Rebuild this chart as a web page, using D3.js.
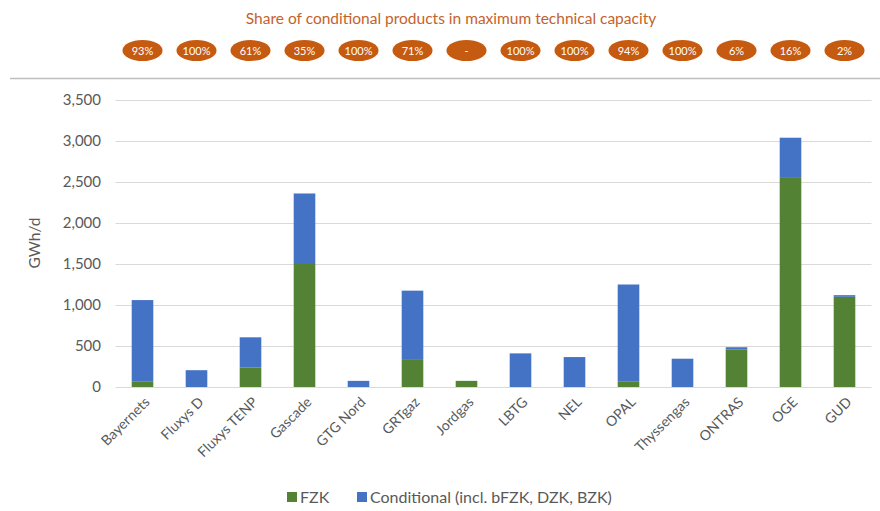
<!DOCTYPE html>
<html><head><meta charset="utf-8">
<script src="https://cdn.jsdelivr.net/npm/d3@7"></script>
<style>body{margin:0;background:#fff;}svg{display:block;}</style>
</head><body>
<svg id="chart" width="880" height="511"></svg>
<script>
const categories = ["Bayernets","Fluxys D","Fluxys TENP","Gascade","GTG Nord","GRTgaz","Jordgas","LBTG","NEL","OPAL","Thyssengas","ONTRAS","OGE","GUD"];
const fzk =         [70, 0, 236, 1500, 0, 340, 75, 0, 0, 70, 0, 455, 2550, 1100];
const conditional = [990, 205, 370, 860, 75, 835, 0, 410, 365, 1180, 345, 30, 490, 20];
const shares = ["93%","100%","61%","35%","100%","71%","-","100%","100%","94%","100%","6%","16%","2%"];
const yTicks = [0,500,1000,1500,2000,2500,3000,3500];
const seriesNames = ["FZK","Conditional (incl. bFZK, DZK, BZK)"];
const colors = ["#548235","#4472C4"];

const svg = d3.select("#chart");
const font = "Lato, 'Open Sans', sans-serif";
const m = {l:115.5, r:871.5, t:100, b:387};

const x = d3.scaleBand().domain(categories).range([m.l, m.r]).paddingInner(0.6).paddingOuter(0.3);
const y = d3.scaleLinear().domain([0,3500]).range([m.b, m.t]);

// title
svg.append("text").attr("x",451).attr("y",24).attr("text-anchor","middle")
  .attr("font-family",font).attr("font-size",15.5).attr("fill","#C4622D")
  .text("Share of conditional products in maximum technical capacity");

// pills
const pills = svg.append("g");
categories.forEach((c,i)=>{
  const cx = x(c)+x.bandwidth()/2;
  pills.append("ellipse").attr("cx",cx).attr("cy",50.5).attr("rx",20).attr("ry",10.5).attr("fill","#C55A11");
  pills.append("text").attr("x",cx).attr("y",54.5).attr("text-anchor","middle")
    .attr("font-family",font).attr("font-size",11).attr("fill","#fff").text(shares[i]);
});

// separator
svg.append("line").attr("x1",10).attr("x2",880).attr("y1",78.5).attr("y2",78.5)
  .attr("stroke","#bfbfbf").attr("stroke-width",1.5);

// gridlines
svg.append("g").selectAll("line").data(yTicks).join("line")
  .attr("x1",m.l).attr("x2",m.r).attr("y1",d=>Math.round(y(d))+0.5).attr("y2",d=>Math.round(y(d))+0.5)
  .attr("stroke","#d9d9d9").attr("stroke-width",1.2);

// y axis labels
const yAxis = d3.axisLeft(y).tickValues(yTicks).tickFormat(d3.format(",")).tickSize(0).tickPadding(0);
const ya = svg.append("g").attr("transform",`translate(101,0)`).call(yAxis);
ya.select(".domain").remove();
ya.selectAll("text").attr("font-family",font).attr("font-size",15).attr("fill","#595959");

svg.append("text").attr("transform","translate(40,243) rotate(-90)").attr("text-anchor","middle")
  .attr("font-family",font).attr("font-size",15.5).attr("fill","#595959").text("GWh/d");

// stacked bars
const data = categories.map((c,i)=>({cat:c, FZK:fzk[i], COND:conditional[i]}));
const stack = d3.stack().keys(["FZK","COND"])(data);
svg.append("g").selectAll("g").data(stack).join("g").attr("fill",(d,i)=>colors[i])
  .selectAll("rect").data(d=>d).join("rect")
  .attr("x",d=>x(d.data.cat)).attr("width",x.bandwidth())
  .attr("y",d=>y(d[1])).attr("height",d=>y(d[0])-y(d[1]));

// x labels
const xa = svg.append("g").attr("transform",`translate(0,${m.b})`)
  .call(d3.axisBottom(x).tickSize(0).tickPadding(0));
xa.select(".domain").remove();
xa.selectAll("text").attr("font-family",font).attr("font-size",14).attr("fill","#595959")
  .attr("text-anchor","end").attr("dy",0)
  .attr("transform","translate(8,16) rotate(-45)");

// legend
const leg = svg.append("g").attr("font-family",font).attr("font-size",16).attr("fill","#595959");
const legX = [287, 357];
seriesNames.forEach((n,i)=>{
  leg.append("rect").attr("x",legX[i]).attr("y",492).attr("width",10).attr("height",10).attr("fill",colors[i]);
  leg.append("text").attr("x",legX[i]+13).attr("y",502.5).text(n);
});
</script>
</body></html>
